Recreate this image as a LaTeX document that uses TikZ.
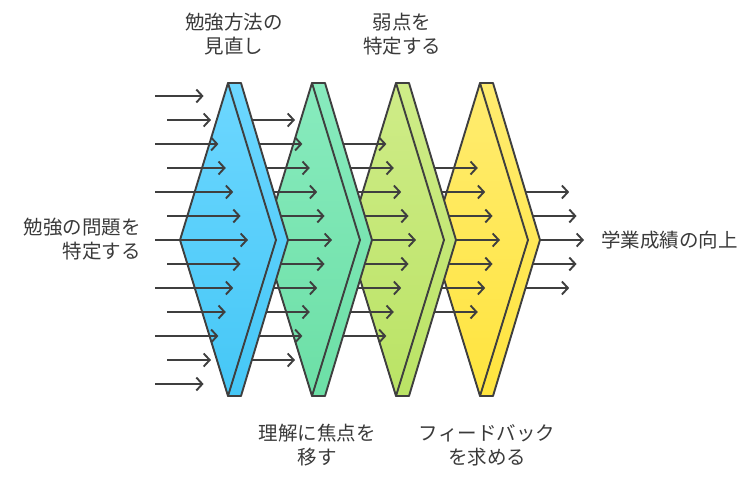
\documentclass[tikz,border=0pt]{standalone}
\usepackage{fontspec}
\newfontfamily\jp{Noto Sans CJK JP}
\usetikzlibrary{arrows.meta}
\definecolor{edge}{HTML}{3F3F3F}
\definecolor{txt}{HTML}{3A3A3A}
\definecolor{c0t}{HTML}{6DD7FF}\definecolor{c0b}{HTML}{45C7F6}
\definecolor{c1t}{HTML}{88EBBE}\definecolor{c1b}{HTML}{6CDFA6}
\definecolor{c2t}{HTML}{CFEC88}\definecolor{c2b}{HTML}{BAE365}
\definecolor{c3t}{HTML}{FFEC70}\definecolor{c3b}{HTML}{FFE43E}
\tikzset{
  flow/.style={draw=edge, line width=1.9pt, -{Straight Barb[length=6pt,width=13pt]}},
  plate/.style={draw=edge, line width=1.9pt, line join=round},
  lbl/.style={text=txt, font=\jp\fontsize{19.5}{24}\selectfont, inner sep=0pt}
}
\begin{document}
\begin{tikzpicture}[x=1pt,y=-1pt]
\useasboundingbox (0,0) rectangle (756,480);
% drawn from right to left so that each plate hides the tails of the arrows leaving it
\foreach \g in {4,3,2,1,0}{
  % arrows entering plate \g (group 4 = output arrows)
  \pgfmathtruncatemacro{\ya}{96+24*\g}
  \pgfmathtruncatemacro{\yb}{384-24*\g}
  \pgfmathtruncatemacro{\yc}{120+24*\g}
  \foreach \y in {\ya,\yc,...,\yb}{
    \pgfmathtruncatemacro{\idx}{(\y-96)/24}
    \pgfmathsetmacro{\xs}{(mod(\idx,2)==0 ? 155 : 167)+84*\g}
    \pgfmathsetmacro{\xe}{248+84*\g-abs(\y-240)/24*7.4}
    \coordinate (s\g-\y) at (\xs,\y);
    \coordinate (e\g-\y) at (\xe,\y);
    \draw[flow] (s\g-\y) -- (e\g-\y);
  }
  \ifnum\g>0
    \pgfmathtruncatemacro{\s}{\g-1}
    \pgfmathsetmacro{\ox}{84*\s}
    \begin{scope}[xshift=\ox]
      \draw[plate, top color=c\s t, bottom color=c\s b]
        (228,83) -- (241,83) -- (288,240) -- (241,396) -- (228,396) -- cycle;
      \draw[plate, top color=c\s t, bottom color=c\s b]
        (180,240) -- (228,83) -- (276,240) -- (228,396) -- cycle;
    \end{scope}
  \fi
}
\node[lbl, align=right, anchor=east] (in) at (141,239) {勉強の問題を\\特定する};
\node[lbl, align=center] (t1) at (234,34) {勉強方法の\\見直し};
\node[lbl, align=center] (t2) at (402,34) {弱点を\\特定する};
\node[lbl, align=center] (b1) at (317,445) {理解に焦点を\\移す};
\node[lbl, align=center] (b2) at (487,445) {フィードバック\\を求める};
\node[lbl, anchor=west] (out) at (601,240) {学業成績の向上};
\end{tikzpicture}
\end{document}
